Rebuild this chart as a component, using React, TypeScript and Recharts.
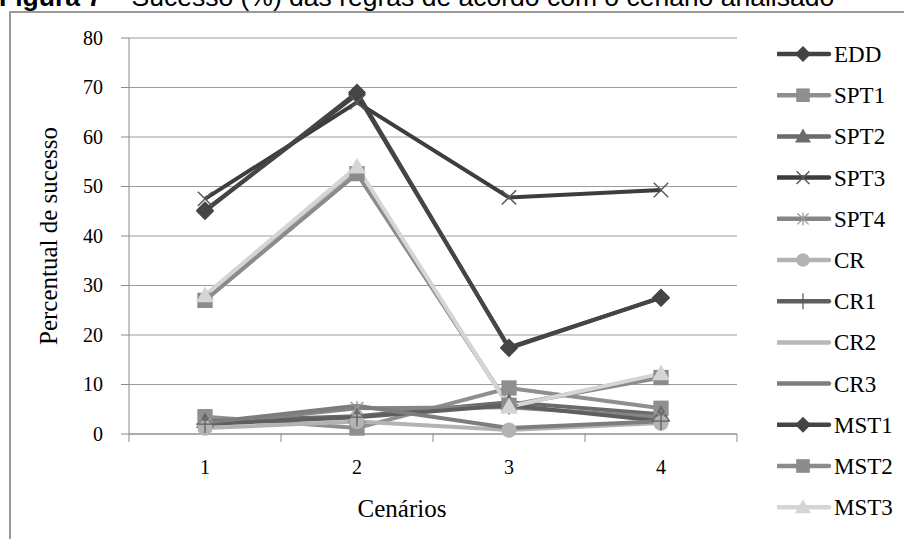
import React from "react";
import { LineChart, Line, XAxis, YAxis, CartesianGrid, Legend } from "recharts";

// scenario index on the x axis
const scenarios = [1, 2, 3, 4];

// success rate (%) per rule, one value per scenario
const edd = [45.2, 68.6, 17.5, 27.5];
const spt1 = [3.5, 1.2, 9.3, 5.2];
const spt2 = [2.6, 3.6, 6.4, 4.0];
const spt3 = [47.5, 67.0, 47.8, 49.3];
const spt4 = [2.0, 5.2, 5.4, 3.4];
const cr = [1.2, 2.5, 0.8, 2.2];
const cr1 = [2.0, 3.4, 5.8, 2.6];
const cr2 = [27.6, 53.4, 5.6, 12.0];
const cr3 = [2.3, 5.7, 1.2, 2.6];
const mst1 = [45.0, 69.0, 17.3, 27.6];
const mst2 = [27.0, 52.6, 5.8, 11.4];
const mst3 = [28.0, 54.0, 5.5, 12.2];

const yTicks = [0, 10, 20, 30, 40, 50, 60, 70, 80];
// half steps carry the tick marks between scenarios, whole steps carry the labels
const xTicks = [0.5, 1, 1.5, 2, 2.5, 3, 3.5, 4, 4.5];

type Shape = "diamond" | "square" | "triangle" | "x" | "star" | "circle" | "plus" | "none";

interface Series {
  key: string;
  name: string;
  values: number[];
  color: string;
  shape: Shape;
  markColor: string;
}

const series: Series[] = [
  { key: "edd", name: "EDD", values: edd, color: "#424242", shape: "diamond", markColor: "#424242" },
  { key: "spt1", name: "SPT1", values: spt1, color: "#8f8f8f", shape: "square", markColor: "#8f8f8f" },
  { key: "spt2", name: "SPT2", values: spt2, color: "#6b6b6b", shape: "triangle", markColor: "#6b6b6b" },
  { key: "spt3", name: "SPT3", values: spt3, color: "#3d3d3d", shape: "x", markColor: "#5a5a5a" },
  { key: "spt4", name: "SPT4", values: spt4, color: "#858585", shape: "star", markColor: "#9a9a9a" },
  { key: "cr", name: "CR", values: cr, color: "#b3b3b3", shape: "circle", markColor: "#b3b3b3" },
  { key: "cr1", name: "CR1", values: cr1, color: "#5f5f5f", shape: "plus", markColor: "#5f5f5f" },
  { key: "cr2", name: "CR2", values: cr2, color: "#b9b9b9", shape: "none", markColor: "#b9b9b9" },
  { key: "cr3", name: "CR3", values: cr3, color: "#7d7d7d", shape: "none", markColor: "#7d7d7d" },
  { key: "mst1", name: "MST1", values: mst1, color: "#454545", shape: "diamond", markColor: "#454545" },
  { key: "mst2", name: "MST2", values: mst2, color: "#8b8b8b", shape: "square", markColor: "#8b8b8b" },
  { key: "mst3", name: "MST3", values: mst3, color: "#d5d5d5", shape: "triangle", markColor: "#d5d5d5" }
];

const rows = scenarios.map((scenario, i) => {
  const row: Record<string, number> = { scenario };
  series.forEach((s) => {
    row[s.key] = s.values[i];
  });
  return row;
});

const SERIF = "'Liberation Serif', 'Times New Roman', serif";
const serifStyle = { fontFamily: SERIF };

function Marker({ cx, cy, shape, color, size }: { cx: number; cy: number; shape: Shape; color: string; size: number }) {
  const h = size / 2;
  switch (shape) {
    case "diamond":
      return <path d={`M${cx},${cy - h} L${cx + h},${cy} L${cx},${cy + h} L${cx - h},${cy} Z`} fill={color} />;
    case "square":
      return <rect x={cx - h * 0.85} y={cy - h * 0.85} width={h * 1.7} height={h * 1.7} fill={color} />;
    case "triangle":
      return <path d={`M${cx},${cy - h} L${cx + h},${cy + h * 0.75} L${cx - h},${cy + h * 0.75} Z`} fill={color} />;
    case "x":
      return (
        <g stroke={color} strokeWidth={1.5}>
          <line x1={cx - h * 0.8} y1={cy - h * 0.8} x2={cx + h * 0.8} y2={cy + h * 0.8} />
          <line x1={cx - h * 0.8} y1={cy + h * 0.8} x2={cx + h * 0.8} y2={cy - h * 0.8} />
        </g>
      );
    case "star":
      return (
        <g stroke={color} strokeWidth={1.3}>
          <line x1={cx - h * 0.7} y1={cy - h * 0.7} x2={cx + h * 0.7} y2={cy + h * 0.7} />
          <line x1={cx - h * 0.7} y1={cy + h * 0.7} x2={cx + h * 0.7} y2={cy - h * 0.7} />
          <line x1={cx} y1={cy - h * 0.8} x2={cx} y2={cy + h * 0.8} />
        </g>
      );
    case "circle":
      return <circle cx={cx} cy={cy} r={h * 0.85} fill={color} />;
    case "plus":
      return (
        <g stroke={color} strokeWidth={1.3}>
          <line x1={cx} y1={cy - h} x2={cx} y2={cy + h} />
          <line x1={cx - h} y1={cy} x2={cx + h} y2={cy} />
        </g>
      );
    default:
      return <g />;
  }
}

function dotFor(s: Series) {
  return (props: any) => (
    <g key={`${s.key}-${props.index}`}>
      <Marker cx={props.cx} cy={props.cy} shape={s.shape} color={s.markColor} size={18} />
    </g>
  );
}

function ScenarioTick(props: any) {
  const { x, y, payload } = props;
  const v = payload.value as number;
  if (Number.isInteger(v)) {
    return (
      <text x={x} y={y + 32} textAnchor="middle" fontSize={20} style={serifStyle} fill="#000">
        {v}
      </text>
    );
  }
  return <line x1={x} x2={x} y1={y - 8} y2={y} stroke="#8a8a8a" strokeWidth={1} />;
}

function PercentTick(props: any) {
  const { x, y, payload } = props;
  return (
    <text x={x} y={y} dy="0.33em" textAnchor="end" fontSize={20} style={serifStyle} fill="#000">
      {payload.value}
    </text>
  );
}

// legend rows follow the series order, not the alphabetical payload order
function LegendBox() {
  return (
    <svg width={125} height={500} style={{ display: "block" }}>
      {series.map((s, i) => {
        const y = 20 + i * 41.2;
        return (
          <g key={s.key}>
            <line x1={0} x2={52} y1={y} y2={y} stroke={s.color} strokeWidth={4.5} strokeLinecap="round" />
            <Marker cx={26} cy={y} shape={s.shape} color={s.markColor} size={16} />
            <text x={57} y={y} dy="0.35em" fontSize={23} style={serifStyle} fill="#000">
              {s.name}
            </text>
          </g>
        );
      })}
    </svg>
  );
}

export default function App() {
  return (
    <div style={{ position: "fixed", left: 0, top: 0, width: 904, height: 539, background: "#fff", overflow: "hidden" }}>
      <div
        style={{
          position: "absolute",
          left: -1,
          top: -16.5,
          fontFamily: "'Liberation Sans', Arial, sans-serif",
          fontSize: 26.5,
          lineHeight: 1,
          whiteSpace: "nowrap",
          color: "#000"
        }}
      >
        <b>Figura 7</b> – Sucesso (%) das regras de acordo com o cenário analisado
      </div>
      <div
        style={{
          position: "absolute",
          left: 9,
          top: 11,
          width: 920,
          height: 540,
          borderLeft: "2px solid #9a9a9a",
          borderTop: "2px solid #9a9a9a"
        }}
      />
      <div style={{ position: "absolute", left: 0, top: 0 }}>
        <LineChart width={904} height={539} data={rows} margin={{ top: 38, right: 42, bottom: 10, left: 10 }}>
          <CartesianGrid vertical={false} stroke="#9c9c9c" strokeWidth={1} />
          <XAxis
            dataKey="scenario"
            type="number"
            domain={[0.5, 4.5]}
            ticks={xTicks}
            interval={0}
            height={95}
            axisLine={{ stroke: "#8a8a8a" }}
            tickLine={false}
            tickSize={8}
            tickMargin={0}
            tick={<ScenarioTick />}
            label={{
              content: () => (
                <text x={402} y={517} textAnchor="middle" fontSize={25} style={serifStyle} fill="#000">
                  Cenários
                </text>
              )
            }}
          />
          <YAxis
            type="number"
            domain={[0, 80]}
            ticks={yTicks}
            interval={0}
            width={119}
            axisLine={{ stroke: "#8a8a8a" }}
            tickLine={{ stroke: "#8a8a8a" }}
            tickSize={8}
            tickMargin={18}
            tick={<PercentTick />}
            label={{
              content: (p: any) => {
                const vb = p.viewBox || {};
                const cx = (vb.x ?? 10) + 38;
                const cy = (vb.y ?? 38) + (vb.height ?? 396) / 2;
                return (
                  <text
                    x={cx}
                    y={cy}
                    transform={`rotate(-90, ${cx}, ${cy})`}
                    textAnchor="middle"
                    dominantBaseline="central"
                    fontSize={25}
                    style={serifStyle}
                    fill="#000"
                  >
                    Percentual de sucesso
                  </text>
                );
              }
            }}
          />
          <Legend
            layout="horizontal"
            verticalAlign="middle"
            align="right"
            content={<LegendBox />}
            wrapperStyle={{ top: 34, left: 777, width: 125 }}
          />
          {series.map((s) => (
            <Line
              key={s.key}
              dataKey={s.key}
              name={s.name}
              type="linear"
              stroke={s.color}
              strokeWidth={4}
              dot={dotFor(s)}
              activeDot={false}
              isAnimationActive={false}
            />
          ))}
        </LineChart>
      </div>
    </div>
  );
}
